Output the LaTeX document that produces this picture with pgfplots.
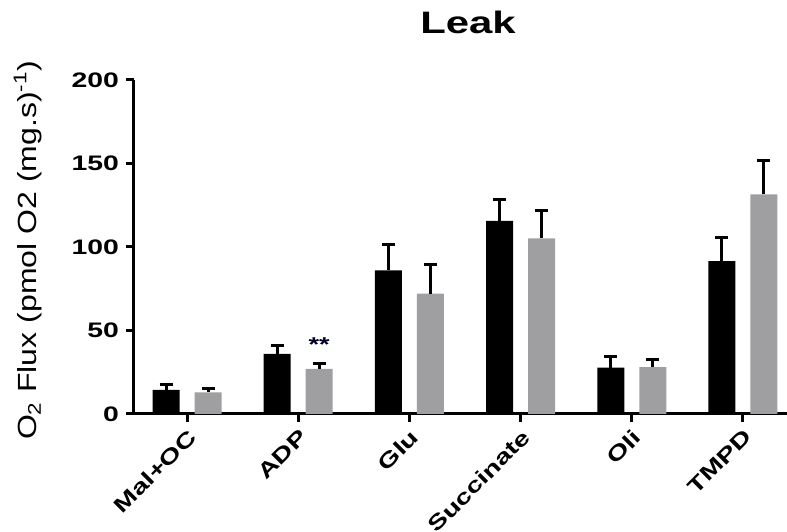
\documentclass[border=0pt]{standalone}
\usepackage{fontspec}
\setmainfont{Liberation Sans}[FakeStretch=1.35]
\newfontfamily\labelfont{Liberation Sans}
\usepackage{pgfplots}
\pgfplotsset{compat=1.18}
\definecolor{barg}{HTML}{9F9FA2}
\begin{document}
\begin{tikzpicture}
\begin{axis}[
  scale only axis, width=326.5pt, height=167pt,
  xmin=-0.477, xmax=5.396, ymin=0, ymax=200,
  ybar=7.5pt, bar width=13.5pt,
  axis lines*=left,
  axis line style={line width=1.5pt},
  xtick={0,...,5},
  xticklabels={Mal+OC,ADP,Glu,Succinate,Oli,TMPD},
  ytick={0,50,100,150,200},
  tick style={line width=1.5pt, black},
  major tick length=4pt,
  tick align=outside,
  /pgf/number format/assume math mode=true,
  ticklabel style={font=\fontsize{10.5}{12}\selectfont\bfseries},
  xticklabel style={rotate=45, anchor=north east, inner sep=2pt},
  ylabel={\scalebox{1}[0.82]{\labelfont O\textsubscript{2} Flux (pmol O2 (mg.s)\textsuperscript{-1})}},
  ylabel style={font=\fontsize{16}{18}\selectfont, at={(axis description cs:0,0.49)}, anchor=center, yshift=53pt},
  title={Leak},
  title style={font=\fontsize{15.5}{18}\selectfont\bfseries, at={(axis description cs:0.5,1)}, anchor=center, yshift=23pt, xshift=3.75pt},
  clip=false,
]
\addplot[fill=black, draw=none,
  error bars/.cd, y dir=plus, y explicit,
  error bar style={line width=1.5pt, black},
  error mark options={rotate=90, mark size=3.25pt, line width=1.5pt, black}]
  table[x=x, y=y, y error=e] {
x y e
0 14.5 3
1 36 5.3
2 86 15.4
3 115.7 13
4 27.7 7
5 91.6 14.2
};
\addplot[fill=barg, draw=none,
  error bars/.cd, y dir=plus, y explicit,
  error bar style={line width=1.5pt, black},
  error mark options={rotate=90, mark size=3.25pt, line width=1.5pt, black}]
  table[x=x, y=y, y error=e] {
x y e
0 13 2.5
1 27 3.2
2 72 17.4
3 105.2 16.5
4 28 4.7
5 131.5 20.5
};
\node[font=\fontsize{10}{11}\selectfont\bfseries, text=black!85!blue, xshift=10.5pt] at (axis cs:1,41.5) {**};
\coordinate (ll) at (rel axis cs:0,0);
\coordinate (ur) at (rel axis cs:1,1);
\end{axis}
\pgfresetboundingbox
\path[use as bounding box] ([xshift=-67pt,yshift=-59pt]ll) rectangle ([yshift=40pt]ur);
\end{tikzpicture}
\end{document}
